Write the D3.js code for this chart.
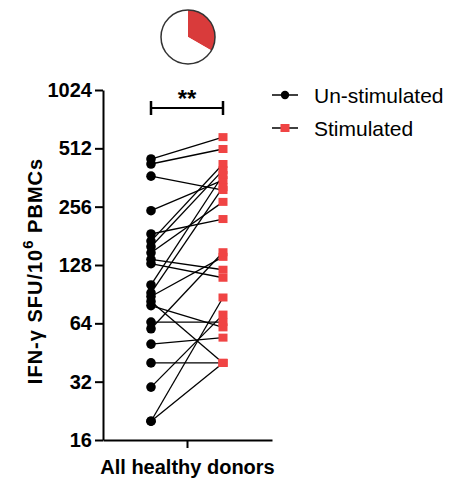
<!DOCTYPE html>
<html>
<head>
<meta charset="utf-8">
<script src="https://cdn.jsdelivr.net/npm/d3@7"></script>
<style>
  body { margin: 0; background: #fff; }
  text { font-family: 'Liberation Sans', Arial, sans-serif; }
</style>
</head>
<body>
<div id="chart"></div>
<script>
// paired donors: un-stimulated vs stimulated (SFU / 10^6 PBMCs)
const unstim = [451, 425, 368, 244, 185, 170, 159, 148, 137, 130, 101, 92, 88, 83, 79, 65, 60, 50, 40, 30, 20, 20]
const stim = [585, 508, 312, 351, 221, 425, 395, 271, 121, 110, 373, 323, 141, 40, 61, 65, 149, 54, 40, 71, 87, 40]
const yTicks = [16, 32, 64, 128, 256, 512, 1024]
const groups = ['Un-stimulated', 'Stimulated']
const pieShare = [1 / 3, 2 / 3]

const W = 461
const H = 486
const RED = '#f04444'
const FONT = "'Liberation Sans', Arial, sans-serif"

const svg = d3.select('#chart').append('svg')
  .attr('width', W).attr('height', H)

const y = d3.scaleLog().base(2).domain([16, 1024]).range([440, 90])
const x = d3.scalePoint().domain(groups).range([151, 223])

// y axis
const yAxis = d3.axisLeft(y).tickValues(yTicks).tickFormat(d3.format('d')).tickSize(8).tickSizeOuter(0)
const gy = svg.append('g').attr('transform', 'translate(103,0)').call(yAxis)
gy.select('.domain').attr('stroke-width', 2)
gy.selectAll('.tick line').attr('stroke-width', 2)
gy.selectAll('.tick text')
  .attr('font-size', 20).attr('font-weight', 'bold').attr('fill', '#000').attr('x', -11)
  .style('font-family', FONT)

// x axis
const xc = d3.scaleBand().domain(['All healthy donors']).range([103, 272])
const xAxis = d3.axisBottom(xc).tickSize(8).tickSizeOuter(0)
const gx = svg.append('g').attr('transform', 'translate(0,440)').call(xAxis)
gx.select('.domain').attr('stroke-width', 2)
gx.selectAll('.tick line').attr('stroke-width', 2)
gx.selectAll('.tick text')
  .attr('font-size', 20).attr('font-weight', 'bold').attr('fill', '#000').attr('y', 20)
  .style('font-family', FONT)

// y title
const yt = svg.append('text')
  .attr('transform', 'translate(42,271) rotate(-90)')
  .attr('text-anchor', 'middle')
  .attr('font-size', 20).attr('font-weight', 'bold')
  .attr('letter-spacing', 1)
yt.append('tspan').text('IFN-γ SFU/10')
yt.append('tspan').attr('dy', -9).attr('font-size', 15).text('6')
yt.append('tspan').attr('dy', 9).text(' PBMCs')

// pair lines
const pairs = unstim.map((u, i) => ({ u, s: stim[i] }))
svg.append('g').selectAll('line')
  .data(pairs)
  .enter().append('line')
  .attr('x1', x('Un-stimulated'))
  .attr('y1', d => y(d.u))
  .attr('x2', x('Stimulated'))
  .attr('y2', d => y(d.s))
  .attr('stroke', '#000')
  .attr('stroke-width', 1.3)

svg.append('g').selectAll('circle')
  .data(unstim)
  .enter().append('circle')
  .attr('cx', x('Un-stimulated'))
  .attr('cy', d => y(d))
  .attr('r', 4.8)
  .attr('fill', '#000')

svg.append('g').selectAll('rect')
  .data(stim)
  .enter().append('rect')
  .attr('x', x('Stimulated') - 4.5)
  .attr('y', d => y(d) - 4)
  .attr('width', 9)
  .attr('height', 8)
  .attr('fill', RED)

// significance bracket
const sig = svg.append('g')
sig.append('line').attr('x1', x('Un-stimulated')).attr('x2', x('Stimulated'))
  .attr('y1', 108).attr('y2', 108).attr('stroke', '#000').attr('stroke-width', 2)
sig.selectAll('.end').data(groups).enter().append('line')
  .attr('x1', d => x(d)).attr('x2', d => x(d))
  .attr('y1', 101).attr('y2', 115).attr('stroke', '#000').attr('stroke-width', 2.5)
sig.append('text').attr('x', 187).attr('y', 107).attr('text-anchor', 'middle')
  .attr('font-size', 24).attr('font-weight', 'bold').text('**')

// legend
const lg = svg.append('g').selectAll('g')
  .data(groups)
  .enter().append('g')
  .attr('transform', (d, i) => `translate(272,${95 + i * 33})`)
lg.append('line').attr('x1', 0).attr('x2', 26).attr('stroke', '#000').attr('stroke-width', 1.5)
lg.filter((d, i) => i === 0).append('circle').attr('cx', 13).attr('r', 4.2).attr('fill', '#000')
lg.filter((d, i) => i === 1).append('rect').attr('x', 8.5).attr('y', -4).attr('width', 9).attr('height', 8).attr('fill', RED)
lg.append('text').attr('x', 42).attr('y', 7.5).attr('font-size', 21).text(d => d)

// pie
const pie = d3.pie().sort(null).value(d => d)
const arc = d3.arc().innerRadius(0).outerRadius(27)
const pg = svg.append('g').attr('transform', 'translate(188,37)')
pg.selectAll('path').data(pie(pieShare)).enter().append('path')
  .attr('d', arc)
  .attr('fill', (d, i) => i === 0 ? '#d93b3b' : '#fff')
pg.append('circle').attr('r', 27).attr('fill', 'none').attr('stroke', '#333').attr('stroke-width', 1.5)
</script>
</body>
</html>
